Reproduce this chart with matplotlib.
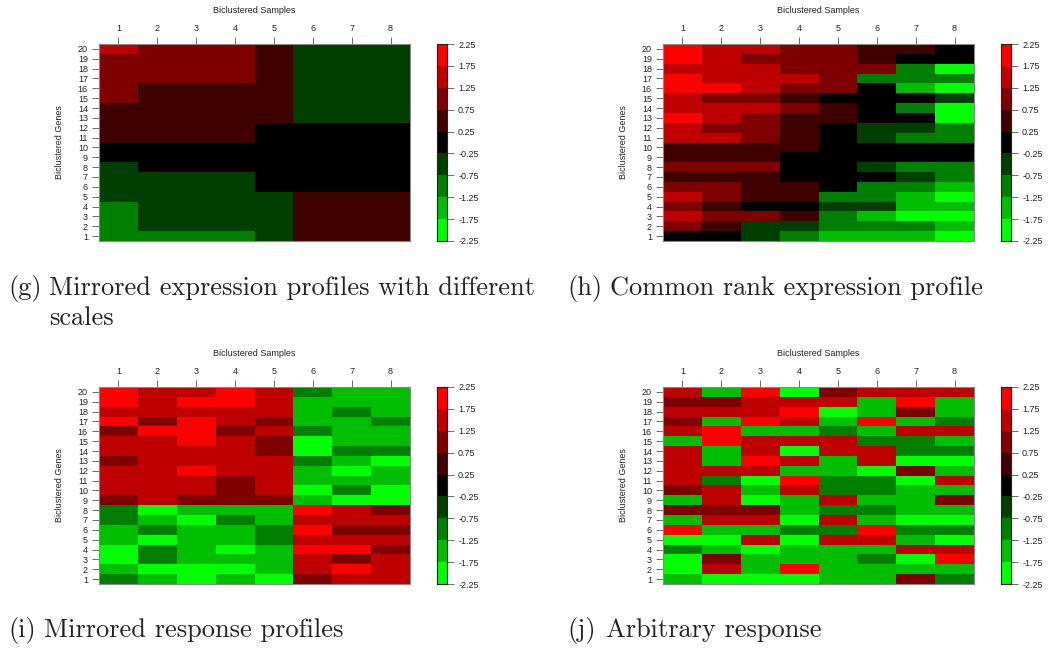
import matplotlib
matplotlib.use("Agg")
import matplotlib.pyplot as plt
import numpy as np
from matplotlib.colors import ListedColormap, BoundaryNorm

# ---- data (rows listed from gene 20 at top down to gene 1) ----
samples = [1, 2, 3, 4, 5, 6, 7, 8]
genes = list(range(1, 21))
levels = [-2.25, -1.75, -1.25, -0.75, -0.25, 0.25, 0.75, 1.25, 1.75, 2.25]
level_colors = ["#00FF00", "#00BF00", "#007F00", "#003F00", "#000000",
                "#3F0000", "#7F0000", "#BF0000", "#FF0000"]

panel_g = [
    [1.5, 1, 1, 1, 0.5, -0.5, -0.5, -0.5],
    [1, 1, 1, 1, 0.5, -0.5, -0.5, -0.5],
    [1, 1, 1, 1, 0.5, -0.5, -0.5, -0.5],
    [1, 1, 1, 1, 0.5, -0.5, -0.5, -0.5],
    [1, 0.5, 0.5, 0.5, 0.5, -0.5, -0.5, -0.5],
    [1, 0.5, 0.5, 0.5, 0.5, -0.5, -0.5, -0.5],
    [0.5, 0.5, 0.5, 0.5, 0.5, -0.5, -0.5, -0.5],
    [0.5, 0.5, 0.5, 0.5, 0.5, -0.5, -0.5, -0.5],
    [0.5, 0.5, 0.5, 0.5, 0, 0, 0, 0],
    [0.5, 0.5, 0.5, 0.5, 0, 0, 0, 0],
    [0, 0, 0, 0, 0, 0, 0, 0],
    [0, 0, 0, 0, 0, 0, 0, 0],
    [-0.5, 0, 0, 0, 0, 0, 0, 0],
    [-0.5, -0.5, -0.5, -0.5, 0, 0, 0, 0],
    [-0.5, -0.5, -0.5, -0.5, 0, 0, 0, 0],
    [-0.5, -0.5, -0.5, -0.5, -0.5, 0.5, 0.5, 0.5],
    [-1, -0.5, -0.5, -0.5, -0.5, 0.5, 0.5, 0.5],
    [-1, -0.5, -0.5, -0.5, -0.5, 0.5, 0.5, 0.5],
    [-1, -0.5, -0.5, -0.5, -0.5, 0.5, 0.5, 0.5],
    [-1, -1, -1, -1, -0.5, 0.5, 0.5, 0.5],
]

panel_h = [
    [2, 1.5, 1.5, 1, 1, 0.5, 0.5, 0],
    [2, 1.5, 1, 1, 1, 0.5, 0, 0],
    [1.5, 1.5, 1.5, 1, 1, 1, -1, -2],
    [2, 1.5, 1.5, 1.5, 1, -1, -1, -1],
    [2, 2, 1.5, 1, 1, 0, -1.5, -2],
    [1.5, 1, 1, 0.5, 0, 0, 0, -0.5],
    [1.5, 1.5, 1.5, 1, 0.5, 0, -1, -2],
    [2, 1.5, 1, 0.5, 0.5, 0, 0, -2],
    [1.5, 1, 1, 0.5, 0, -0.5, -0.5, -1],
    [1.5, 1.5, 1, 0.5, 0, -0.5, -1, -1],
    [0.5, 0.5, 0.5, 0.5, 0, 0, 0, 0],
    [0.5, 0.5, 0.5, 0, 0, 0, 0, 0],
    [1, 1, 1, 0, 0, -0.5, -1, -1],
    [0.5, 0.5, 0.5, 0, 0, 0, -0.5, -1],
    [1, 1, 0.5, 0.5, 0, -1, -1, -1.5],
    [1.5, 1, 0.5, 0.5, -1, -1, -1.5, -2],
    [1, 0.5, 0, 0, -0.5, -0.5, -1.5, -1.5],
    [1.5, 1, 1, 0.5, -1, -1.5, -2, -2],
    [1, 0.5, -0.5, -0.5, -1, -1, -1, -1.5],
    [0, 0, -0.5, -1, -1.5, -1.5, -1.5, -2],
]

panel_i = [
    [2, 1.5, 1.5, 2, 1.5, -1, -1.5, -1.5],
    [2, 1.5, 2, 2, 1.5, -1.5, -1.5, -1.5],
    [1.5, 1.5, 1.5, 1.5, 1.5, -1.5, -1, -1.5],
    [2, 1, 2, 1.5, 1, -1.5, -1.5, -1],
    [1, 2, 2, 1, 1.5, -1, -1.5, -1.5],
    [1.5, 1.5, 2, 1.5, 1, -2, -1.5, -1.5],
    [1.5, 1.5, 1.5, 1.5, 1, -2, -1, -1],
    [1, 1.5, 1.5, 1.5, 1.5, -1, -1.5, -2],
    [1.5, 1.5, 2, 1.5, 1.5, -1.5, -2, -1.5],
    [1.5, 1.5, 1.5, 1, 1.5, -1.5, -1.5, -1.5],
    [1.5, 1.5, 1.5, 1, 1.5, -2, -1, -2],
    [1, 1.5, 1, 1, 1, -1.5, -2, -2],
    [-1, -2, -1.5, -1.5, -1.5, 2, 1.5, 1],
    [-1, -1.5, -2, -1, -1.5, 1.5, 1.5, 1.5],
    [-1.5, -1, -1.5, -1.5, -1, 2, 1, 1],
    [-1.5, -2, -1.5, -1.5, -1, 1.5, 1.5, 1.5],
    [-2, -1, -1.5, -2, -1.5, 2, 2, 1],
    [-2, -1, -1.5, -1.5, -1.5, 1.5, 1, 1.5],
    [-1.5, -2, -2, -2, -1.5, 1.5, 2, 1.5],
    [-1, -1.5, -2, -1.5, -2, 1, 1.5, 1.5],
]

panel_j = [
    [1.5, -1.5, 2, -2, 1, 1.5, 1.5, 1.5],
    [1, 1, 1.5, 1.5, 1.5, -1.5, 2, -1.5],
    [1.5, 1.5, 1.5, 2, -2, -1.5, 1, -1.5],
    [1, -1.5, 2, 1.5, -1.5, 2, -1.5, -1],
    [1.5, 2, -1.5, -1.5, -1, -1.5, 1.5, 1.5],
    [-1.5, 2, 1.5, 1.5, 1.5, -1, -1, -1.5],
    [1.5, -1.5, 1.5, -2, 1.5, 1.5, -1, -1],
    [1.5, -1.5, 2, 1.5, -1.5, 1.5, -2, -2],
    [1.5, 1.5, 1.5, -1.5, -1.5, -2, 1, -1.5],
    [1.5, -1, -2, 2, -1, -1, -2, 1.5],
    [1, 1.5, -1.5, 1.5, -1, -1, -1.5, -1.5],
    [-1.5, 1.5, -2, -1.5, 1.5, -1.5, -1.5, 1],
    [1, 1, 1, -1.5, -1, -1, -1.5, -1.5],
    [-1.5, 1.5, 1.5, -2, 1.5, -1.5, -2, -2],
    [2, -1.5, -1.5, -1, -1, 2, -1, -1],
    [-2, -2, 1.5, -2, 1.5, 1.5, -1.5, -2],
    [-1, -1.5, -2, -1.5, -1.5, -1.5, 1.5, 1.5],
    [-2, 1, -1.5, -1.5, -1.5, -1, -2, 2],
    [-2, 1.5, -1.5, 2, -1.5, -1.5, -1.5, -1.5],
    [-1.5, -2, -2, -2, -1.5, -1.5, 1, -1],
]

caption_labels = ["(g)", "(h)", "(i)", "(j)"]
caption_texts = [
    "Mirrored expression profiles with different\nscales",
    "Common rank expression profile",
    "Mirrored response profiles",
    "Arbitrary response",
]

# ---- figure ----
W, H = 1048, 648
fig = plt.figure(figsize=(W / 100, H / 100), dpi=100)
cmap = ListedColormap(level_colors)
norm = BoundaryNorm(levels, cmap.N)
sans = ["Liberation Sans", "DejaVu Sans"]


def px_axes(x0, y0, x1, y1):
    return fig.add_axes([x0 / W, 1 - y1 / H, (x1 - x0) / W, (y1 - y0) / H])


def draw_panel(data, hx0, hy0):
    hx1, hy1 = hx0 + 311, hy0 + 197
    ax = px_axes(hx0, hy0, hx1, hy1)
    arr = np.array(data[::-1], dtype=float)
    xe = np.arange(len(samples) + 1) + 0.5
    ye = np.arange(len(genes) + 1) + 0.5
    ax.pcolormesh(xe, ye, arr, cmap=cmap, norm=norm)
    ax.set_xlim(0.5, len(samples) + 0.5)
    ax.set_ylim(0.5, len(genes) + 0.5)
    ax.xaxis.tick_top()
    ax.xaxis.set_label_position("top")
    ax.set_xticks(samples)
    ax.set_yticks(genes)
    ax.tick_params(axis="both", direction="out", length=5, width=0.6,
                   color="#555555", labelsize=6.5, labelcolor="#222222", pad=3)
    ax.set_xticklabels([str(s) for s in samples], fontfamily=sans)
    ax.set_yticklabels([str(g) for g in genes], fontfamily=sans)
    ax.set_xlabel("Biclustered Samples", fontsize=6.5, fontfamily=sans,
                  color="#222222", labelpad=8)
    ax.set_ylabel("Biclustered Genes", fontsize=6.5, fontfamily=sans,
                  color="#222222", labelpad=10)
    for sp in ax.spines.values():
        sp.set_color("#888888")
        sp.set_linewidth(0.8)

    cax = px_axes(hx0 + 338, hy0, hx0 + 348, hy1)
    mids = np.array([(a + b) / 2 for a, b in zip(levels[:-1], levels[1:])])
    ce = np.array(levels)
    cax.pcolormesh([0, 1], ce, mids.reshape(-1, 1), cmap=cmap, norm=norm)
    cax.set_xlim(0, 1)
    cax.set_ylim(levels[0], levels[-1])
    cax.set_xticks([])
    cax.yaxis.tick_right()
    cax.set_yticks(levels)
    cax.set_yticklabels([f"{v:.2f}" for v in levels], fontfamily=sans)
    cax.tick_params(axis="y", direction="out", length=5, width=0.6,
                    color="#555555", labelsize=6.5, labelcolor="#222222", pad=3)
    for sp in cax.spines.values():
        sp.set_color("#222222")
        sp.set_linewidth(0.8)


draw_panel(panel_g, 99, 44)
draw_panel(panel_h, 663, 44)
draw_panel(panel_i, 99, 387)
draw_panel(panel_j, 663, 387)

cap_font = dict(fontfamily="cmr10", fontsize=19, color="#222222")
label_x = [8, 567, 8, 567]
text_x = [49, 610, 44, 606]
base_y = [295, 295, 637, 637]
for lab, txt, lx, tx, by in zip(caption_labels, caption_texts, label_x, text_x, base_y):
    fig.text(lx / W, 1 - by / H, lab, va="baseline", ha="left", **cap_font)
    for k, line in enumerate(txt.split("\n")):
        fig.text(tx / W, 1 - (by + 30 * k) / H, line, va="baseline",
                 ha="left", **cap_font)

fig.savefig("out.png", dpi=100)
